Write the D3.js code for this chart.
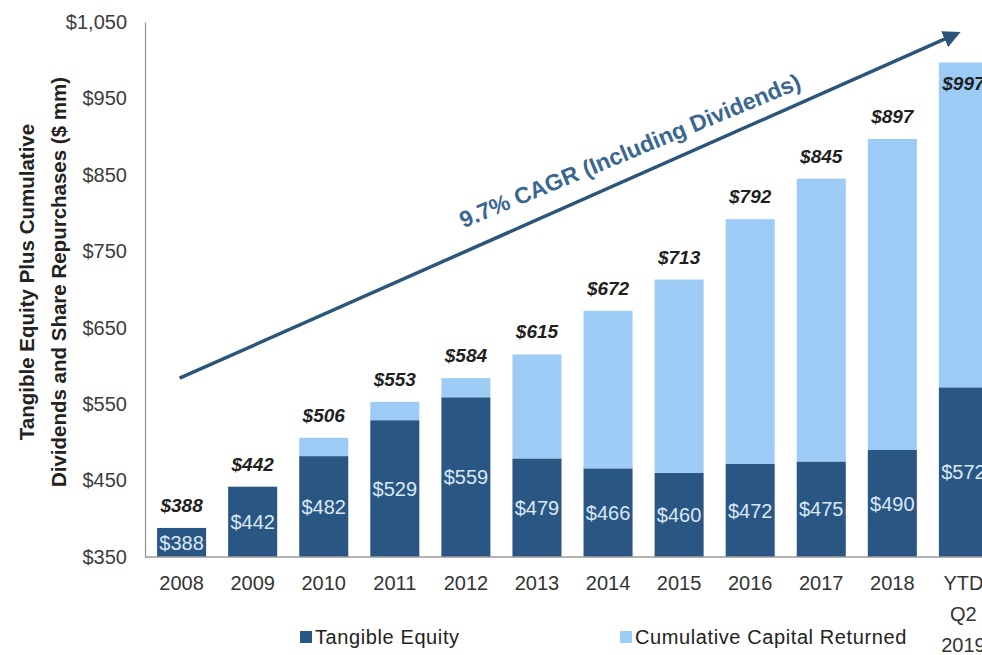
<!DOCTYPE html>
<meta charset="utf-8">
<title>Tangible Equity Plus Cumulative Capital Returned</title>
<style>
    body { margin: 0; background: #fff; }
    svg { display: block; font-family: Arial, "Liberation Sans", sans-serif; }
    .tick text { fill: #3c3c3c; }
</style>
<svg width="982" height="655"></svg>
<script src="https://d3js.org/d3.v7.min.js"></script>
<script>

    // data ($ mm)
    var categories = ["2008", "2009", "2010", "2011", "2012", "2013", "2014", "2015", "2016", "2017", "2018", "YTD Q2 2019"];
    var tangibleEquity = [388, 442, 482, 529, 559, 479, 466, 460, 472, 475, 490, 572];
    var totalValues = [388, 442, 506, 553, 584, 615, 672, 713, 792, 845, 897, 997];
    var yTicks = [350, 450, 550, 650, 750, 850, 950, 1050];
    var seriesNames = ["Tangible Equity", "Cumulative Capital Returned"];
    var cagrLabel = "9.7% CAGR (Including Dividends)";

    var darkBlue = "#2a5684",
        lightBlue = "#9ccbf6";

    var svg = d3.select("svg"),
        plotLeft = 145,
        plotTop = 22,
        plotBottom = 557;

    var rows = categories.map(function(c, i) {
        return { cat: c, te: tangibleEquity[i], ret: totalValues[i] - tangibleEquity[i], total: totalValues[i] };
    });

    var stack = d3.stack().keys(["te", "ret"]).offset(function(series) {
        // bars start at the axis floor ($350), not at zero
        series[0].forEach(function(d) { d[0] = 350; d[1] = d.data.te; });
        series[1].forEach(function(d) { d[0] = d.data.te; d[1] = d.data.total; });
    });
    var layers = stack(rows);

    var x = d3.scaleBand()
        .domain(categories)
        .range([plotLeft, 1000])
        .paddingInner(0.31)
        .paddingOuter(0.17);

    var y = d3.scaleLinear()
        .domain([350, 1050])
        .range([plotBottom, plotTop]);

    // y axis
    var yAxis = svg.append("g")
        .attr("transform", "translate(" + plotLeft + ",0)")
        .call(d3.axisLeft(y).tickValues(yTicks).tickSize(0).tickPadding(18)
            .tickFormat(function(d) { return "$" + d3.format(",")(d); }));
    yAxis.select(".domain").attr("stroke", "#9a9a9a").attr("stroke-width", 1.3);
    yAxis.selectAll("text").attr("font-size", 20);

    // bars
    svg.append("g").selectAll("g")
        .data(layers)
        .join("g")
        .attr("fill", function(d, i) { return i === 0 ? darkBlue : lightBlue; })
        .selectAll("rect")
        .data(function(d) { return d; })
        .join("rect")
        .attr("x", function(d) { return x(d.data.cat); })
        .attr("width", x.bandwidth())
        .attr("y", function(d) { return y(d[1]); })
        .attr("height", function(d) { return y(d[0]) - y(d[1]); });

    // baseline
    svg.append("line")
        .attr("x1", plotLeft).attr("x2", 982)
        .attr("y1", plotBottom).attr("y2", plotBottom)
        .attr("stroke", "#9a9a9a").attr("stroke-width", 1.3);

    // value inside the tangible equity segment
    svg.append("g").selectAll("text")
        .data(rows)
        .join("text")
        .attr("x", function(d) { return x(d.cat) + x.bandwidth() / 2; })
        .attr("y", function(d) { return (y(d.te) + y(350)) / 2; })
        .attr("dy", "0.36em")
        .attr("text-anchor", "middle")
        .attr("font-size", 20)
        .attr("fill", "#dae8f6")
        .text(function(d) { return "$" + d.te; });

    // totals above the bars (inside for the last one)
    svg.append("g").selectAll("text")
        .data(rows)
        .join("text")
        .attr("x", function(d) { return x(d.cat) + x.bandwidth() / 2; })
        .attr("y", function(d) { return d.total > 950 ? y(d.total) + 27 : y(d.total) - 16; })
        .attr("text-anchor", "middle")
        .attr("font-size", 19)
        .attr("font-weight", "bold")
        .attr("font-style", "italic")
        .attr("fill", "#1f1f1f")
        .text(function(d) { return "$" + d.total; });

    // category labels
    svg.append("g").selectAll("text")
        .data(categories)
        .join("text")
        .attr("x", function(d) { return x(d) + x.bandwidth() / 2; })
        .attr("y", 590)
        .attr("text-anchor", "middle")
        .attr("font-size", 20)
        .attr("fill", "#333")
        .each(function(d) {
            var parts = d.split(" ");
            d3.select(this).selectAll("tspan")
                .data(parts)
                .join("tspan")
                .attr("x", x(d) + x.bandwidth() / 2)
                .attr("dy", function(p, i) { return i === 0 ? 0 : 31; })
                .text(function(p) { return p; });
        });

    // y axis title
    var title = svg.append("text")
        .attr("transform", "translate(0,282) rotate(-90)")
        .attr("text-anchor", "middle")
        .attr("font-size", 20.5)
        .attr("font-weight", "bold")
        .attr("fill", "#222");
    title.append("tspan").attr("x", 0).attr("y", 34).text("Tangible Equity Plus Cumulative");
    title.append("tspan").attr("x", 0).attr("y", 66).text("Dividends and Share Repurchases ($ mm)");

    // CAGR arrow
    svg.append("defs").append("marker")
        .attr("id", "head")
        .attr("viewBox", "0 0 10 10")
        .attr("refX", 8).attr("refY", 5)
        .attr("markerWidth", 5).attr("markerHeight", 5)
        .attr("orient", "auto")
        .append("path")
        .attr("d", "M0,0L10,5L0,10Z")
        .attr("fill", "#2b5579");

    var arrowStart = [x(categories[0]) + x.bandwidth() / 2 - 2, y(584)],
        arrowEnd = [x(categories[11]) + x.bandwidth() / 2 - 6, y(1035)];
    svg.append("line")
        .attr("x1", arrowStart[0]).attr("y1", arrowStart[1])
        .attr("x2", arrowEnd[0]).attr("y2", arrowEnd[1])
        .attr("stroke", "#2b5579")
        .attr("stroke-width", 3.5)
        .attr("marker-end", "url(#head)");

    svg.append("text")
        .attr("transform", "translate(633,158) rotate(-22.5)")
        .attr("text-anchor", "middle")
        .attr("font-size", 23)
        .attr("font-weight", "bold")
        .attr("fill", "#3a6791")
        .text(cagrLabel);

    // legend
    var legend = svg.append("g").selectAll("g")
        .data(seriesNames)
        .join("g")
        .attr("transform", function(d, i) { return "translate(" + (i === 0 ? 300 : 620) + ",637)"; });
    legend.append("rect")
        .attr("x", 0).attr("y", -6)
        .attr("width", 12).attr("height", 12)
        .attr("fill", function(d, i) { return i === 0 ? darkBlue : lightBlue; });
    legend.append("text")
        .attr("x", 15)
        .attr("dy", "0.36em")
        .attr("font-size", 20)
        .attr("letter-spacing", 0.6)
        .attr("fill", "#222")
        .text(function(d) { return d; });

</script>
